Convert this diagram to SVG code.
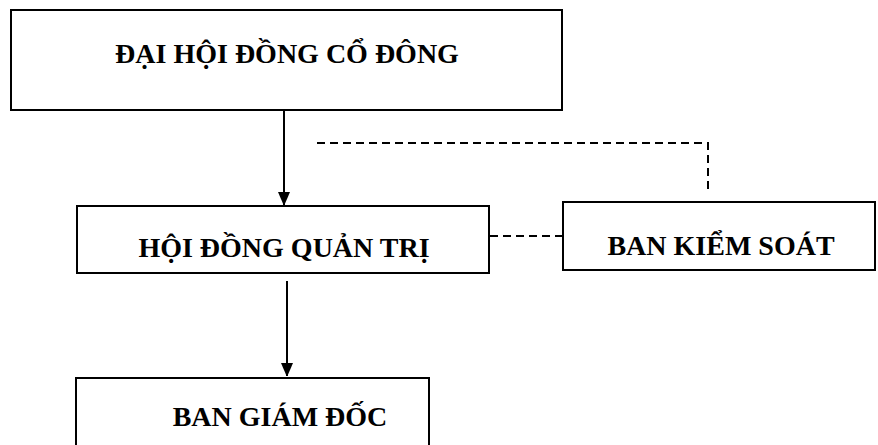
<svg xmlns="http://www.w3.org/2000/svg" width="878" height="445" viewBox="0 0 878 445">
<defs>
<style>
.box{fill:#fff;stroke:#000;stroke-width:2}
.t{font-family:"Liberation Serif","DejaVu Serif",serif;font-weight:bold;font-size:28px;fill:#000;text-anchor:middle}
.ln{stroke:#000;stroke-width:2;fill:none}
.dash{stroke:#000;stroke-width:2;fill:none;stroke-dasharray:8,5}
</style>
<marker id="arr" markerWidth="12" markerHeight="14" refX="13" refY="6" orient="auto" markerUnits="userSpaceOnUse">
<path d="M0,0 L14,6 L0,12 Z" fill="#000"/>
</marker>
</defs>
<rect width="878" height="445" fill="#fff"/>
<g id="connectors">
<line class="ln" x1="284" y1="111" x2="284" y2="205" marker-end="url(#arr)"/>
<line class="ln" x1="287" y1="281" x2="287" y2="376" marker-end="url(#arr)"/>
<polyline class="dash" points="317,143 708,143 708,190"/>
<line class="dash" x1="490" y1="236" x2="562" y2="236"/>
</g>
<g id="dhdcd">
<rect class="box" x="11" y="10" width="551" height="100"/>
<text class="t" x="287" y="63">ĐẠI HỘI ĐỒNG CỔ ĐÔNG</text>
</g>
<g id="hdqt">
<rect class="box" x="77" y="206" width="412" height="67"/>
<text class="t" x="284" y="257">HỘI ĐỒNG QUẢN TRỊ</text>
</g>
<g id="bks">
<rect class="box" x="563" y="202" width="312" height="68"/>
<text class="t" x="721" y="255">BAN KIỂM SOÁT</text>
</g>
<g id="bgd">
<rect class="box" x="76" y="378" width="353" height="80"/>
<text class="t" x="280" y="426">BAN GIÁM ĐỐC</text>
</g>
</svg>
